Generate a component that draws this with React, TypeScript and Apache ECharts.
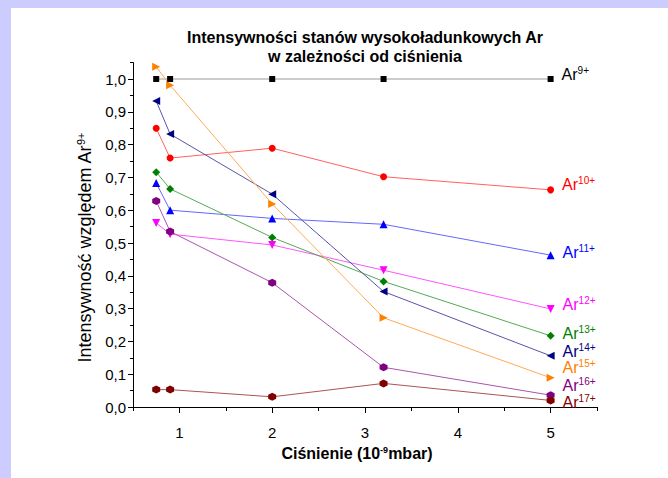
import React, { useEffect, useRef } from "react";
import * as echarts from "echarts";

const FONT = "'Liberation Sans', Arial, Helvetica, sans-serif";

const xValues = [0.75, 0.9, 2, 3.2, 5];
const ar9 = [1, 1, 1, 1, 1];
const ar10 = [0.85, 0.759, 0.789, 0.702, 0.662];
const ar11 = [0.683, 0.6, 0.575, 0.557, 0.463];
const ar12 = [0.561, 0.527, 0.494, 0.417, 0.299];
const ar13 = [0.716, 0.665, 0.517, 0.383, 0.217];
const ar14 = [0.933, 0.832, 0.649, 0.352, 0.156];
const ar15 = [1.037, 0.981, 0.619, 0.272, 0.089];
const ar16 = [0.628, 0.535, 0.379, 0.121, 0.036];
const ar17 = [0.053, 0.053, 0.031, 0.072, 0.02];

const seriesNames = ["9+", "10+", "11+", "12+", "13+", "14+", "15+", "16+", "17+"];
const seriesValues = [ar9, ar10, ar11, ar12, ar13, ar14, ar15, ar16, ar17];

const yTickValues = [0, 0.1, 0.2, 0.3, 0.4, 0.5, 0.6, 0.7, 0.8, 0.9, 1.0];
const xTickValues = [1, 2, 3, 4, 5];

const HEX = "path://M0,-1L0.866,-0.5L0.866,0.5L0,1L-0.866,0.5L-0.866,-0.5Z";

const styles = [
  { color: "#000000", line: "#9a9a9a", symbol: "rect", size: 6, rotate: 0, dy: -4 },
  { color: "#ff0000", line: "#ff6060", symbol: "circle", size: 7, rotate: 0, dy: -4 },
  { color: "#0000ff", line: "#6666ff", symbol: "triangle", size: 8, rotate: 0, dy: -2 },
  { color: "#ff00ff", line: "#ff55ff", symbol: "triangle", size: 8, rotate: 180, dy: -3 },
  { color: "#008000", line: "#55aa55", symbol: "diamond", size: 8, rotate: 0, dy: -1.5 },
  { color: "#000080", line: "#5555a8", symbol: "triangle", size: 8, rotate: 90, dy: -3.5 },
  { color: "#ff8000", line: "#ffaa55", symbol: "triangle", size: 8, rotate: -90, dy: -9 },
  { color: "#800080", line: "#aa55aa", symbol: HEX, size: 8, rotate: 0, dy: -8.5 },
  { color: "#800000", line: "#a85555", symbol: HEX, size: 8, rotate: 0, dy: 3.5 },
];

export default function App() {
  const ref = useRef<HTMLDivElement>(null);
  useEffect(() => {
    if (!ref.current) return;
    const chart = echarts.init(ref.current, null, { renderer: "svg" });
    const series = seriesValues.map((vals, si) => {
      const st = styles[si];
      return {
        type: "line",
        name: "Ar" + seriesNames[si],
        xAxisIndex: 0,
        yAxisIndex: 0,
        symbol: st.symbol,
        symbolSize: st.size,
        symbolRotate: st.rotate,
        showAllSymbol: true,
        itemStyle: { color: st.color },
        lineStyle: { color: st.line, width: 1 },
        emphasis: { disabled: true },
        data: vals.map((v, i) => {
          if (i === vals.length - 1) {
            return {
              value: [xValues[i], v],
              label: {
                show: true,
                position: "right",
                distance: 8,
                offset: [0, st.dy],
                formatter: "{a|Ar}{s|" + seriesNames[si] + "}",
                rich: {
                  a: { fontSize: 16, fontFamily: FONT, color: st.color, lineHeight: 14, verticalAlign: "bottom" },
                  s: { fontSize: 10, fontFamily: FONT, color: st.color, lineHeight: 10, padding: [0, 0, 7, 0], verticalAlign: "bottom" },
                },
              },
            };
          }
          return [xValues[i], v];
        }),
      };
    });

    chart.setOption({
      animation: false,
      backgroundColor: "#ccccff",
      graphic: {
        elements: [
          {
            type: "rect",
            z: -100,
            silent: true,
            shape: { x: 11, y: 8, width: 657, height: 470 },
            style: { fill: "#ffffff" },
          },
          {
            type: "text",
            z: 100,
            x: 365,
            y: 28,
            style: {
              text: "Intensywności stanów wysokoładunkowych Ar\nw zależności od ciśnienia",
              font: "bold 16px " + FONT,
              fill: "#000000",
              textAlign: "center",
              lineHeight: 19,
            },
          },
        ],
      },
      grid: { left: 133, right: 71, top: 62.6, bottom: 71, containLabel: false },
      xAxis: [
        {
          type: "value",
          min: 0.5,
          max: 5.5,
          interval: 0.5,
          offset: 10,
          position: "bottom",
          name: "Ciśnienie (10{s|-9}mbar)",
          nameLocation: "middle",
          nameGap: 28,
          nameTextStyle: {
            fontSize: 16,
            fontWeight: "bold",
            fontFamily: FONT,
            color: "#000",
            padding: [0, 16, 0, 0],
            rich: {
              s: { fontSize: 9, fontWeight: "bold", fontFamily: FONT, color: "#000", padding: [0, 0, 8, 0], verticalAlign: "bottom" },
            },
          },
          axisLine: { show: true, lineStyle: { color: "#000", width: 1 } },
          axisTick: { show: true, length: 6, customValues: xTickValues, lineStyle: { color: "#000" } },
          axisLabel: {
            customValues: xTickValues,
            fontSize: 15,
            fontFamily: FONT,
            color: "#000",
            margin: 8,
          },
          splitLine: { show: false },
        },
        {
          type: "value",
          min: 0.5,
          max: 5.5,
          interval: 0.5,
          offset: 10,
          position: "bottom",
          axisLine: { show: false },
          axisTick: { show: true, length: 4, lineStyle: { color: "#000" } },
          axisLabel: { show: false },
          splitLine: { show: false },
        },
      ],
      yAxis: [
        {
          type: "value",
          min: 0,
          max: 1.05,
          interval: 0.05,
          position: "left",
          name: "Intensywność względem Ar{s|9+}",
          nameLocation: "middle",
          nameRotate: 90,
          nameGap: 38,
          nameTextStyle: {
            fontSize: 18,
            fontFamily: FONT,
            color: "#000",
            padding: [0, 26, 0, 0],
            rich: {
              s: { fontSize: 11, fontFamily: FONT, color: "#000", padding: [0, 0, 9, 0], verticalAlign: "bottom" },
            },
          },
          axisLine: { show: true, lineStyle: { color: "#000", width: 1 } },
          axisTick: { show: true, length: 5, customValues: yTickValues, lineStyle: { color: "#000" } },
          axisLabel: {
            customValues: yTickValues,
            fontSize: 15,
            fontFamily: FONT,
            color: "#000",
            margin: 7,
            formatter: (v: number) => v.toFixed(1).replace(".", ","),
          },
          splitLine: { show: false },
        },
        {
          type: "value",
          min: 0,
          max: 1.05,
          interval: 0.05,
          position: "left",
          axisLine: { show: false },
          axisTick: { show: true, length: 3, lineStyle: { color: "#000" } },
          axisLabel: { show: false },
          splitLine: { show: false },
        },
      ],
      series,
    });
    return () => chart.dispose();
  }, []);
  return (
    <div
      ref={ref}
      style={{ position: "absolute", left: 0, top: 0, width: 668, height: 478 }}
    />
  );
}
